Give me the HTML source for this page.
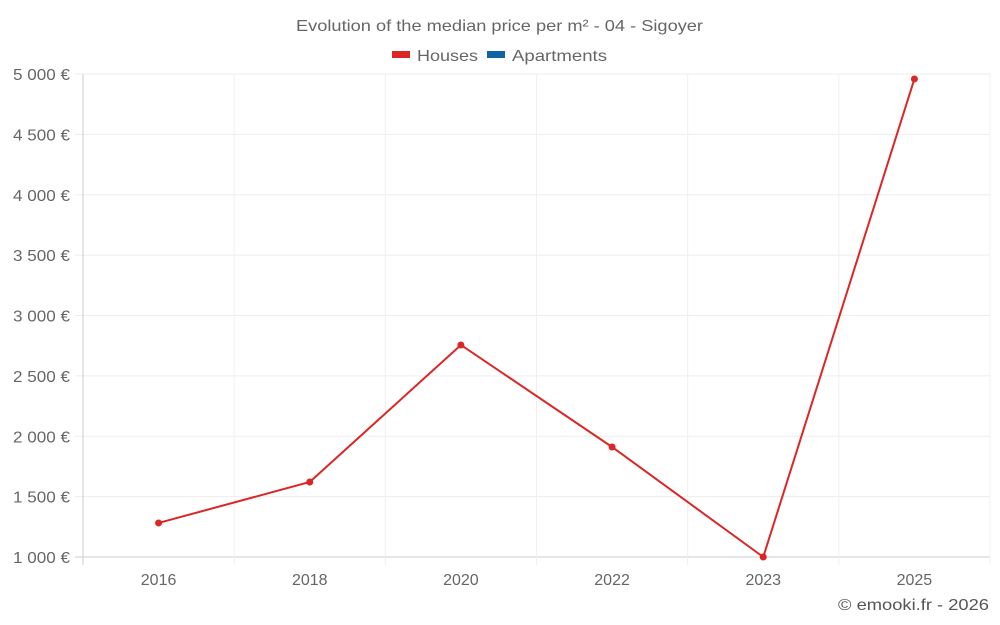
<!DOCTYPE html>
<html><head><meta charset="utf-8"><style>
html,body{margin:0;padding:0;background:#fff;}
svg{display:block;font-family:"Liberation Sans",sans-serif;}
</style></head><body>
<svg id="chart" width="1000" height="625">
<text x="296" y="31" textLength="407" lengthAdjust="spacingAndGlyphs" font-size="16" fill="#666">Evolution of the median price per m² - 04 - Sigoyer</text>
<g>
<g><rect x="392" y="51" width="18" height="7" fill="#dc2626"/><text x="417" y="61" textLength="61" lengthAdjust="spacingAndGlyphs" font-size="16" fill="#666">Houses</text></g>
<g><rect x="487" y="51" width="18" height="7" fill="#1064a3"/><text x="512" y="61" textLength="95" lengthAdjust="spacingAndGlyphs" font-size="16" fill="#666">Apartments</text></g>
</g>
<g id="grid"></g>
<g id="axes"></g>
<g id="series"></g>
<text x="838" y="610" textLength="151" lengthAdjust="spacingAndGlyphs" font-size="16" fill="#555">© emooki.fr - 2026</text>
</svg>
<script>
const categories = ["2016","2018","2020","2022","2023","2025"];
const houses = [1282, 1621, 2756, 1911, 1000, 4959];
const yTicks = [1000,1500,2000,2500,3000,3500,4000,4500,5000];
const yTickLabels = ["1 000 €","1 500 €","2 000 €","2 500 €","3 000 €","3 500 €","4 000 €","4 500 €","5 000 €"];

const NS="http://www.w3.org/2000/svg";
const L=83,R=990,T=74,B=557,yMin=1000,yMax=5000;
const bw=(R-L)/categories.length;
const x=i=>L+bw*(i+0.5);
const y=v=>B-(v-yMin)/(yMax-yMin)*(B-T);
function mk(tag,attrs,parent){const e=document.createElementNS(NS,tag);for(const k in attrs)e.setAttribute(k,attrs[k]);parent.appendChild(e);return e;}
const grid=document.getElementById('grid'),axes=document.getElementById('axes'),ser=document.getElementById('series');
yTicks.forEach((t,i)=>{
  const ln=mk('line',{x1:L-8,x2:R,y1:y(t),y2:y(t),stroke:i===0?'#ccc':'#ededed','stroke-width':1},grid);
  
  
  const tx=mk('text',{x:70,y:y(t)+6,'text-anchor':'end','font-size':16,fill:'#666',textLength:57,lengthAdjust:'spacingAndGlyphs'},axes);
  tx.textContent=yTickLabels[i];
  
  
});
for(let i=0;i<=categories.length;i++){
  const ln=mk('line',{x1:L+bw*i,x2:L+bw*i,y1:T,y2:B+8,stroke:i===0?'#ccc':'#f0f0f0','stroke-width':1},grid);
  
  
}
categories.forEach((c,i)=>{
  const tx=mk('text',{x:x(i),y:585,'text-anchor':'middle','font-size':16,fill:'#666'},axes);
  tx.textContent=c;
  
  
});
const pl=mk('polyline',{points:houses.map((v,i)=>x(i)+','+y(v)).join(' '),fill:'none',stroke:'#dc2626','stroke-width':2},ser);


houses.forEach((v,i)=>{
  const c=mk('circle',{cx:x(i),cy:y(v),r:3.5,fill:'#dc2626'},ser);
  
  
});
</script>
</body></html>
